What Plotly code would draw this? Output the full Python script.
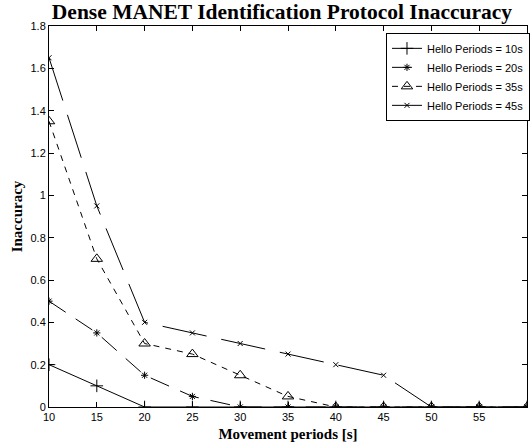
import plotly.graph_objects as go

movement = [10, 15, 20, 25, 30, 35, 40, 45, 50, 55, 60]
hello_10 = [0.2, 0.1, 0, 0, 0, 0, 0, 0, 0, 0, 0]
hello_20 = [0.5, 0.35, 0.15, 0.05, 0, 0, 0, 0, 0, 0, 0]
hello_35 = [1.35, 0.7, 0.3, 0.25, 0.15, 0.05, 0, 0, 0, 0, 0]
hello_45 = [1.65, 0.95, 0.4, 0.35, 0.3, 0.25, 0.2, 0.15, 0, 0, 0]

names = ["Hello Periods = 10s", "Hello Periods = 20s", "Hello Periods = 35s", "Hello Periods = 45s"]
series = [hello_10, hello_20, hello_35, hello_45]
symbols = ["cross-thin-open", "asterisk-open", "triangle-up-open", "x-thin-open"]
sizes = [9, 6, 10, 5]
dashes = ["solid", "20px,12px", "6px,6px", "45px,15px"]

fig = go.Figure()
for name, ys, sym, sz, dash in zip(names, series, symbols, sizes, dashes):
    fig.add_trace(go.Scatter(
        x=movement, y=ys, name=name, mode="lines+markers",
        line=dict(color="black", width=1, dash=dash),
        marker=dict(symbol=sym, size=sz, color="black", line=dict(color="black", width=1)),
    ))

axis_common = dict(
    showline=True, linecolor="black", linewidth=1, mirror="ticks",
    ticks="inside", ticklen=5, tickcolor="black", tickwidth=1,
    showgrid=False, zeroline=False,
    tickfont=dict(family="Liberation Sans, Arial, sans-serif", size=11, color="black"),
)
title_font = dict(family="Liberation Serif, Times New Roman, serif", size=15, color="black")

fig.update_layout(
    width=531, height=447,
    margin=dict(l=49, r=1, t=26, b=40),
    paper_bgcolor="white", plot_bgcolor="white",
    showlegend=True,
    hovermode=False,
    title=dict(
        text="<b>Dense MANET Identification Protocol Inaccuracy</b>",
        font=dict(family="Liberation Serif, Times New Roman, serif", size=21.5, color="black"),
        x=0.531, xref="container", xanchor="center",
        y=0.974, yref="container", yanchor="middle", pad=dict(t=0, b=0),
    ),
    xaxis=dict(range=[10, 60], tickvals=[10, 15, 20, 25, 30, 35, 40, 45, 50, 55, 60],
               title=dict(text="<b>Movement periods [s]</b>", standoff=6, font=title_font),
               **axis_common),
    yaxis=dict(range=[0, 1.8], tickvals=[0, 0.2, 0.4, 0.6, 0.8, 1, 1.2, 1.4, 1.6, 1.8],
               ticktext=["0", "0.2", "0.4", "0.6", "0.8", "1", "1.2", "1.4", "1.6", "1.8"],
               title=dict(text="<b>Inaccuracy</b>", standoff=4, font=title_font),
               **axis_common),
    legend=dict(
        x=0.705, xanchor="left", y=0.982, yanchor="top",
        bgcolor="white", bordercolor="black", borderwidth=1,
        font=dict(family="Liberation Sans, Arial, sans-serif", size=11, color="black"),
        tracegroupgap=0, itemwidth=30,
    ),
)

fig.write_html("out.html", config={"displayModeBar": False},
               post_script="document.body.style.margin='0px';")
